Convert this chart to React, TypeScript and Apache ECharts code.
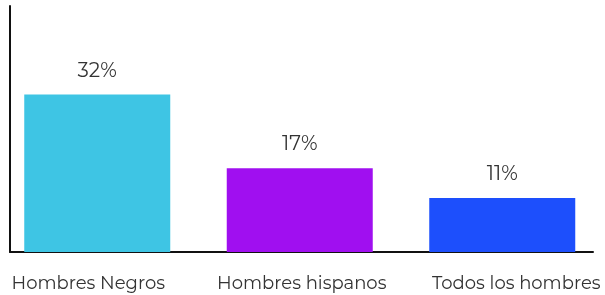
import React, { useEffect, useRef } from "react";
import * as echarts from "echarts";

const categories = ["Hombres Negros", "Hombres hispanos", "Todos los hombres"];
const values = [32, 17, 11];
const colors = ["#3ec5e4", "#a00ff0", "#1d4ffc"];
const richKeys = ["a", "b", "c"];

const FONT = "Montserrat, 'Open Sans', sans-serif";

export default function App() {
  const ref = useRef<HTMLDivElement>(null);
  useEffect(() => {
    const chart = echarts.init(ref.current!, null, { renderer: "svg" });
    chart.setOption({
      animation: false,
      grid: [
        { left: 16, right: 1.5, top: 6, bottom: 43, containLabel: false },
        { left: 30, right: 12, top: 6, bottom: 43, containLabel: false },
      ],
      xAxis: [
        {
          type: "category",
          gridIndex: 0,
          data: categories,
          axisLine: { show: false },
          axisTick: { show: false },
          axisLabel: {
            margin: 22,
            interval: 0,
            formatter: (v: string) => {
              const i = categories.indexOf(v);
              return `{${richKeys[i]}|${v}}`;
            },
            rich: {
              a: { fontFamily: FONT, fontSize: 18, color: "#333", padding: [0, 18, 0, 0] },
              b: { fontFamily: FONT, fontSize: 18, color: "#333", padding: [0, 0, 0, 4] },
              c: { fontFamily: FONT, fontSize: 18, color: "#333", padding: [0, 0, 0, 28] },
            },
          },
        },
        {
          type: "category",
          gridIndex: 1,
          data: categories,
          axisLine: { show: true, lineStyle: { color: "#111", width: 2 } },
          axisTick: { show: false },
          axisLabel: { show: false },
        },
      ],
      yAxis: [
        {
          type: "value",
          gridIndex: 0,
          min: 0,
          max: 50,
          axisLine: { show: false },
          axisTick: { show: false },
          axisLabel: { show: false },
          splitLine: { show: false },
        },
        {
          type: "value",
          gridIndex: 1,
          min: 0,
          max: 50,
          axisLine: { show: true, lineStyle: { color: "#111", width: 2 } },
          axisTick: { show: false },
          axisLabel: { show: false },
          splitLine: { show: false },
        },
      ],
      series: [
        {
          type: "bar",
          xAxisIndex: 0,
          yAxisIndex: 0,
          barWidth: 146,
          data: values.map((v, i) => ({ value: v, itemStyle: { color: colors[i] } })),
          label: {
            show: true,
            position: "top",
            distance: 15,
            formatter: "{c}%",
            fontFamily: FONT,
            fontSize: 20,
            color: "#333",
          },
        },
      ],
    });
    return () => chart.dispose();
  }, []);
  return (
    <div style={{ position: "fixed", left: 0, top: 0, width: 605, height: 295, overflow: "hidden" }}>
      <div
        ref={ref}
        style={{ position: "absolute", left: -20, top: 0, width: 625, height: 295 }}
      />
    </div>
  );
}
